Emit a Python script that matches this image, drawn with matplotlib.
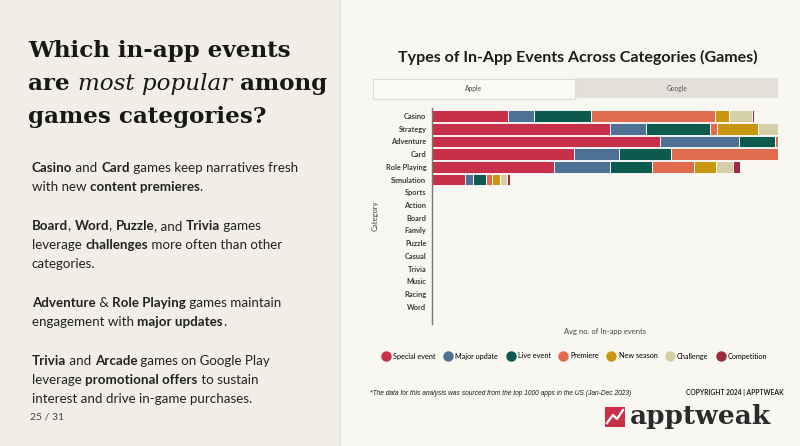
import matplotlib
matplotlib.use("Agg")
import matplotlib.pyplot as plt
from matplotlib.patches import Rectangle
from matplotlib.lines import Line2D
import numpy as np

# ---- data (bar segment lengths) ----
categories = ["Casino", "Strategy", "Adventure", "Card", "Role Playing", "Simulation",
              "Sports", "Action", "Board", "Family", "Puzzle", "Casual", "Trivia",
              "Music", "Racing", "Word"]
event_types = ["Special event", "Major update", "Live event", "Premiere",
               "New season", "Challenge", "Competition"]
special_event = [0.76, 1.78, 2.28, 1.42, 1.22, 0.33, 0, 0, 0, 0, 0, 0, 0, 0, 0, 0]
major_update  = [0.26, 0.36, 0.79, 0.45, 0.56, 0.08, 0, 0, 0, 0, 0, 0, 0, 0, 0, 0]
live_event    = [0.57, 0.64, 0.36, 0.52, 0.42, 0.13, 0, 0, 0, 0, 0, 0, 0, 0, 0, 0]
premiere      = [1.24, 0.07, 0.04, 1.09, 0.42, 0.06, 0, 0, 0, 0, 0, 0, 0, 0, 0, 0]
new_season    = [0.14, 0.41, 0.00, 0.00, 0.22, 0.08, 0, 0, 0, 0, 0, 0, 0, 0, 0, 0]
challenge     = [0.23, 0.21, 0.00, 0.00, 0.17, 0.07, 0, 0, 0, 0, 0, 0, 0, 0, 0, 0]
competition   = [0.02, 0.00, 0.00, 0.00, 0.07, 0.03, 0, 0, 0, 0, 0, 0, 0, 0, 0, 0]
series = [special_event, major_update, live_event, premiere, new_season, challenge, competition]
colors = ["#c8304a", "#4d7093", "#0c5a4e", "#e16b4f", "#c9970f", "#d4cfa6", "#9b2c40"]

W, H = 800, 446
LEFT_BG = "#f1eee8"
RIGHT_BG = "#f8f7f1"
BODY_FONT = ["Lato", "DejaVu Sans"]
HEAD_FONT = ["DejaVu Serif"]

fig = plt.figure(figsize=(8, 4.46), dpi=100)
fig.patch.set_facecolor(RIGHT_BG)
renderer = fig.canvas.get_renderer()

def fx(x):
    return x / W

def fy(y):
    return 1 - y / H

def rect(x, y, w, h, **kw):
    fig.patches.append(Rectangle((fx(x), fy(y + h)), w / W, h / H,
                                 transform=fig.transFigure, **kw))

# panel backgrounds
rect(0, 0, 340, H, facecolor=LEFT_BG, edgecolor="none", zorder=0)
rect(339, 0, 2, H, facecolor="#e6e3dc", edgecolor="none", zorder=0)

def text_width(s, **kw):
    t = fig.text(0, 0, s, **kw)
    w = t.get_window_extent(renderer).width
    t.remove()
    return w

def rich(x, y, parts, size, family, color="#1c1c1c"):
    # parts: list of (text, weight, style); advance measured against a bar glyph
    for txt, weight, style in parts:
        kw = dict(fontsize=size, fontweight=weight, fontstyle=style, family=family)
        fig.text(fx(x), fy(y), txt, va="baseline", ha="left", color=color, **kw)
        x += text_width("|" + txt + "|", **kw) - text_width("||", **kw)

# heading
hs = 16.6
rich(28, 57, [("Which in-app events", "bold", "normal")], hs, HEAD_FONT, "#171717")
rich(28, 90, [("are ", "bold", "normal"), ("most popular", "normal", "italic"),
              (" among", "bold", "normal")], hs, HEAD_FONT, "#171717")
rich(28, 123, [("games categories?", "bold", "normal")], hs, HEAD_FONT, "#171717")

# body paragraphs
bs = 9.6
B, N = "bold", "normal"
body = [
    (172, [("Casino", B, N), (" and ", N, N), ("Card", B, N), (" games keep narratives fresh", N, N)]),
    (191, [("with new ", N, N), ("content premieres", B, N), (".", N, N)]),
    (230, [("Board", B, N), (", ", N, N), ("Word", B, N), (", ", N, N), ("Puzzle", B, N),
           (", and ", N, N), ("Trivia", B, N), (" games", N, N)]),
    (249, [("leverage ", N, N), ("challenges", B, N), (" more often than other", N, N)]),
    (268, [("categories.", N, N)]),
    (307, [("Adventure", B, N), (" & ", N, N), ("Role Playing", B, N), (" games maintain", N, N)]),
    (326, [("engagement with ", N, N), ("major updates", B, N), (".", N, N)]),
    (365, [("Trivia", B, N), (" and ", N, N), ("Arcade", B, N), (" games on Google Play", N, N)]),
    (384, [("leverage ", N, N), ("promotional offers", B, N), (" to sustain", N, N)]),
    (403, [("interest and drive in-game purchases.", N, N)]),
]
for y, parts in body:
    rich(32, y, parts, bs, BODY_FONT, "#222222")

fig.text(fx(30), fy(420), "25 / 31", fontsize=7.5, family=BODY_FONT, color="#444444",
         va="baseline", ha="left")

# chart title and tabs
fig.text(fx(578), fy(57), "Types of In-App Events Across Categories (Games)",
         fontsize=11.5, fontweight="bold", family=BODY_FONT, color="#1c1c1c",
         ha="center", va="center")
rect(575, 78, 203, 20, facecolor="#e2e0d9", edgecolor="none", zorder=1)
rect(373, 79, 202, 20, facecolor="#fbfaf6", edgecolor="#dddbd4", linewidth=0.8, zorder=2)
fig.text(fx(474), fy(89), "Apple", fontsize=4.8, family=BODY_FONT, color="#444444",
         ha="center", va="center")
fig.text(fx(677), fy(88), "Google", fontsize=4.8, family=BODY_FONT, color="#555555",
         ha="center", va="center")

# stacked bars
ax = fig.add_axes([fx(432), fy(324), (778 - 432) / W, (324 - 108) / H])
ax.set_facecolor("none")
y = np.arange(len(categories))
left = np.zeros(len(categories))
for vals, name, c in zip(series, event_types, colors):
    vals = np.array(vals)
    ax.barh(y, vals, left=left, height=0.92, color=c, edgecolor="white",
            linewidth=0.6, label=name)
    left += vals
ax.set_ylim(16.36, -0.63)
ax.set_xlim(0, 3.46)
ax.set_yticks(y)
ax.set_yticklabels(categories, fontsize=5.3, fontweight="bold", family=BODY_FONT,
                   color="#3a3a3a")
ax.set_xticks([])
ax.tick_params(axis="y", length=0, pad=4)
for s in ["top", "right", "bottom"]:
    ax.spines[s].set_visible(False)
ax.spines["left"].set_color("#777777")
ax.spines["left"].set_linewidth(1.0)
ax.set_xlabel("Avg no. of In-app events", fontsize=5.5, family=BODY_FONT,
              color="#444444", labelpad=3)
ax.set_ylabel("Category", fontsize=5.5, family=BODY_FONT, color="#444444", labelpad=5)

handles = [Line2D([], [], marker="o", linestyle="none", markersize=6.5,
                  markerfacecolor=c, markeredgecolor=c) for c in colors]
fig.legend(handles, event_types, loc="center", bbox_to_anchor=(fx(575), fy(356)),
           ncol=7, frameon=False, handletextpad=0.5, columnspacing=1.2,
           handlelength=1.0, prop={"family": BODY_FONT, "size": 5.2})

# footer
fig.text(fx(370), fy(395), "*The data for this analysis was sourced from the top 1000 apps in the US (Jan-Dec 2023)",
         fontsize=4.77, fontstyle="italic", family=["Liberation Sans"], color="#1a1a1a",
         ha="left", va="baseline")
fig.text(fx(784), fy(395), "COPYRIGHT 2024 | APPTWEAK", fontsize=4.9, fontweight="bold",
         family=BODY_FONT, color="#222222", ha="right", va="baseline")

# logo
rect(605, 407, 20, 20, facecolor="#c8304a", edgecolor="none", zorder=3)
fig.lines.append(Line2D([fx(607), fx(613), fx(617), fx(623)], [fy(423), fy(415), fy(419), fy(410)],
                        transform=fig.transFigure, color="white", linewidth=1.6, zorder=4))
fig.text(fx(630), fy(424), "apptweak", fontsize=19, fontweight="bold", family=HEAD_FONT,
         color="#2b2b2b", ha="left", va="baseline")

fig.savefig("out.png", dpi=100, facecolor=fig.get_facecolor())
